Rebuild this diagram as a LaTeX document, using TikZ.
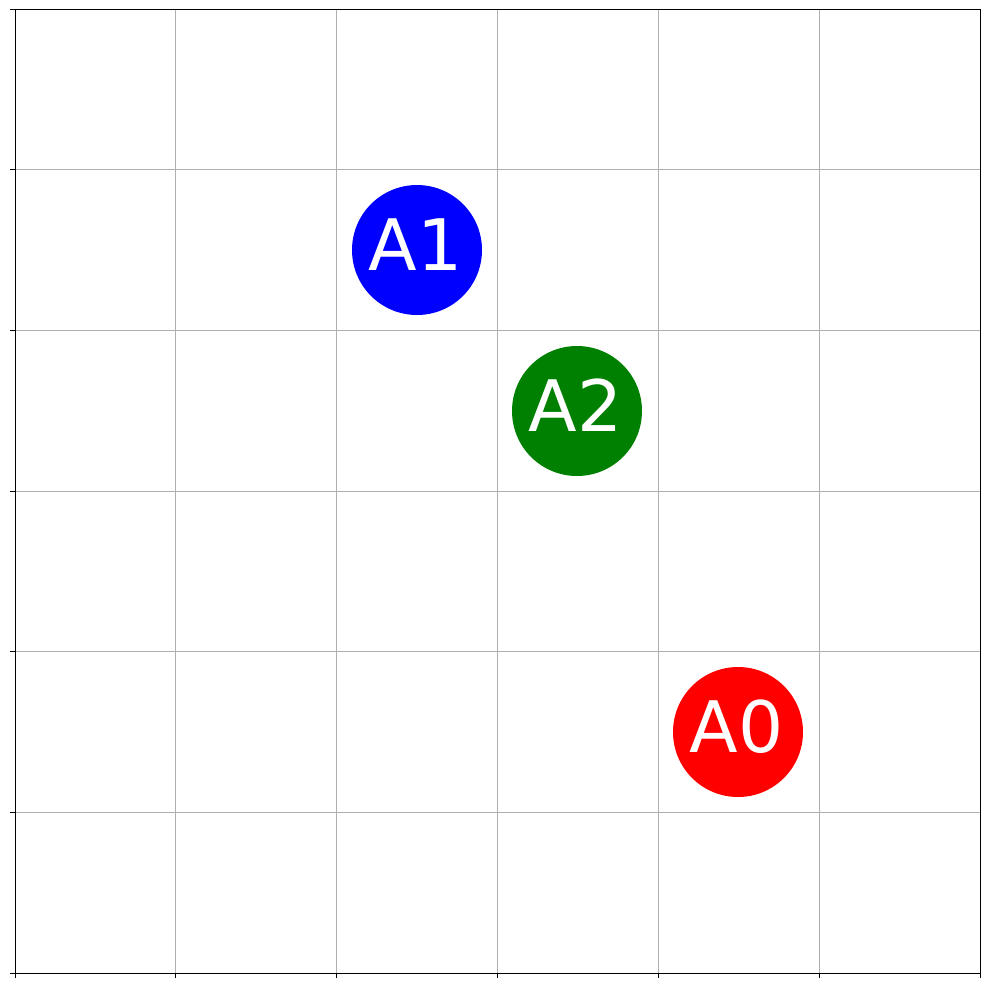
\documentclass[tikz,border=0pt]{standalone}
\usepackage{fontspec}
\setmainfont{DejaVu Sans}
\definecolor{gridgray}{HTML}{B0B0B0}
\definecolor{mplgreen}{HTML}{008000}
\tikzset{
  gridline/.style={draw=gridgray, line width=0.8pt},
  spine/.style={draw=black, line width=0.9pt, line cap=rect},
  tickmark/.style={draw=black, line width=0.9pt},
  dot/.style={circle, minimum size=130pt, inner sep=0pt, draw=none},
  lbl/.style={text=white, font=\fontsize{71}{71}\selectfont, inner sep=0pt}
}
\begin{document}
\begin{tikzpicture}[x=1pt, y=-1pt]
\useasboundingbox (0,0) rectangle (989,989);
\fill[white] (0,0) rectangle (989,989);
% grid
\foreach \i in {1,...,5} {
  \draw[gridline] ({15+\i*160.83},9) -- ({15+\i*160.83},973);
  \draw[gridline] (15,{9+\i*160.67}) -- (980,{9+\i*160.67});
}
% ticks
\foreach \i in {0,...,6} {
  \draw[tickmark] ({15+\i*160.83},973) -- ({15+\i*160.83},978);
  \draw[tickmark] (15,{9+\i*160.67}) -- (10,{9+\i*160.67});
}
% spines
\draw[spine] (15,9) rectangle (980,973);
% circles
\node[dot, fill=blue] (a1) at (417,250) {};
\node[dot, fill=mplgreen] (a2) at (577,411) {};
\node[dot, fill=red] (a0) at (738,732) {};
\node[lbl] (t1) at ([xshift=-1.5pt,yshift=5.5pt]a1.center) {A1};
\node[lbl] (t2) at ([xshift=-1.5pt,yshift=5.5pt]a2.center) {A2};
\node[lbl] (t0) at ([xshift=-1.5pt,yshift=5.5pt]a0.center) {A0};
\end{tikzpicture}
\end{document}
